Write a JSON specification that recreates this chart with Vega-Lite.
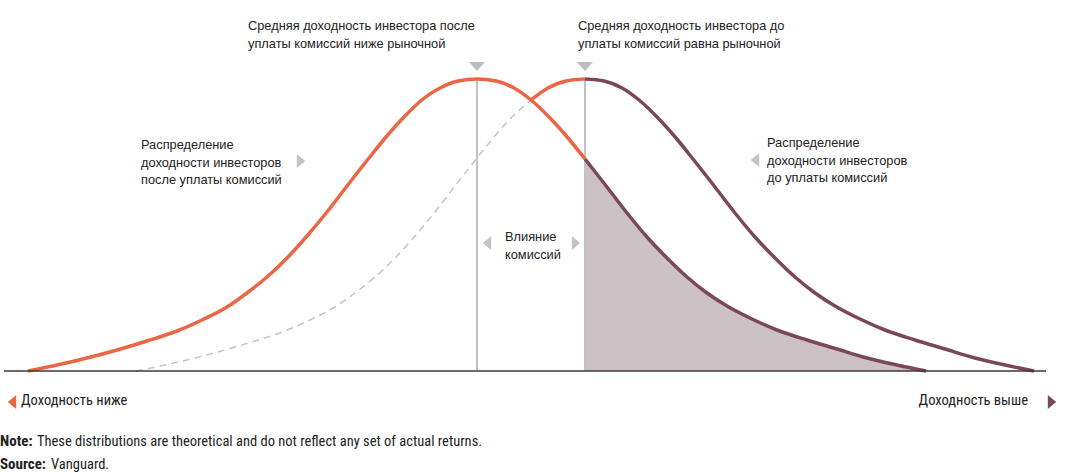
{
  "$schema": "https://vega.github.io/schema/vega-lite/v6.json",
  "width": 1065,
  "height": 476,
  "padding": 0,
  "autosize": {"type": "fit", "contains": "padding"},
  "background": "white",
  "config": {"view": {"stroke": null}},
  "datasets": {
    "after": [
      {"x": 28, "y": 0}, {"x": 57, "y": 6}, {"x": 87, "y": 13}, {"x": 117, "y": 21}, {"x": 147, "y": 30},
      {"x": 177, "y": 40}, {"x": 202, "y": 51}, {"x": 227, "y": 64}, {"x": 247, "y": 78}, {"x": 267, "y": 94},
      {"x": 287, "y": 113}, {"x": 307, "y": 135}, {"x": 327, "y": 159}, {"x": 347, "y": 185}, {"x": 369, "y": 213},
      {"x": 386, "y": 234}, {"x": 404, "y": 254}, {"x": 423, "y": 272}, {"x": 440, "y": 283}, {"x": 458, "y": 290},
      {"x": 477, "y": 292}, {"x": 496, "y": 290}, {"x": 514, "y": 283}, {"x": 531, "y": 271}, {"x": 550, "y": 253},
      {"x": 568, "y": 233}, {"x": 585, "y": 212}, {"x": 607, "y": 184}, {"x": 627, "y": 158}, {"x": 647, "y": 134},
      {"x": 667, "y": 113}, {"x": 687, "y": 94}, {"x": 707, "y": 78}, {"x": 727, "y": 65}, {"x": 752, "y": 52},
      {"x": 777, "y": 41}, {"x": 807, "y": 31}, {"x": 837, "y": 22}, {"x": 867, "y": 13}, {"x": 897, "y": 6},
      {"x": 926, "y": 0}
    ],
    "before": [
      {"x": 136, "y": 0}, {"x": 165, "y": 6}, {"x": 195, "y": 13}, {"x": 225, "y": 21}, {"x": 255, "y": 30},
      {"x": 285, "y": 40}, {"x": 310, "y": 51}, {"x": 335, "y": 64}, {"x": 355, "y": 78}, {"x": 375, "y": 94},
      {"x": 395, "y": 113}, {"x": 415, "y": 135}, {"x": 435, "y": 159}, {"x": 455, "y": 185}, {"x": 477, "y": 213},
      {"x": 494, "y": 234}, {"x": 512, "y": 254}, {"x": 531, "y": 271}, {"x": 548, "y": 283}, {"x": 566, "y": 290},
      {"x": 585, "y": 292}, {"x": 604, "y": 290}, {"x": 622, "y": 283}, {"x": 639, "y": 271}, {"x": 658, "y": 253},
      {"x": 676, "y": 233}, {"x": 693, "y": 212}, {"x": 715, "y": 184}, {"x": 735, "y": 158}, {"x": 755, "y": 134},
      {"x": 775, "y": 113}, {"x": 795, "y": 94}, {"x": 815, "y": 78}, {"x": 835, "y": 65}, {"x": 860, "y": 52},
      {"x": 885, "y": 41}, {"x": 915, "y": 31}, {"x": 945, "y": 22}, {"x": 975, "y": 13}, {"x": 1005, "y": 6},
      {"x": 1034, "y": 0}
    ],
    "vlines": [
      {"x": 477, "y": 292, "y2": 0},
      {"x": 585, "y": 292, "y2": 0}
    ],
    "base": [{"x": 4, "x2": 1046, "y": 0}],
    "tri_down": [{"x": 477, "y": 304.5}, {"x": 585, "y": 304.5}],
    "tri_right_gray": [{"x": 301, "y": 210}, {"x": 576, "y": 128}],
    "tri_left_gray": [{"x": 755, "y": 211}, {"x": 487, "y": 128}],
    "tri_left_orange": [{"x": 12, "y": -31}],
    "tri_right_purple": [{"x": 1052, "y": -31}],
    "labels": [
      {"x": 248, "y": 341, "text": "Средняя доходность инвестора после\nуплаты комиссий ниже рыночной"},
      {"x": 578, "y": 341, "text": "Средняя доходность инвестора до\nуплаты комиссий равна рыночной"},
      {"x": 141, "y": 222, "text": "Распределение\nдоходности инвесторов\nпосле уплаты комиссий"},
      {"x": 767, "y": 224, "text": "Распределение\nдоходности инвесторов\nдо уплаты комиссий"},
      {"x": 505, "y": 130, "text": "Влияние\nкомиссий"}
    ],
    "bottom_left": [
      {"x": 21, "y": -34, "text": "Доходность ниже"},
      {"x": 37, "y": -75, "text": "These distributions are theoretical and do not reflect any set of actual returns."},
      {"x": 51, "y": -98, "text": "Vanguard."}
    ],
    "bottom_right": [{"x": 1028, "y": -34, "text": "Доходность выше"}],
    "bold": [
      {"x": 0, "y": -75, "text": "Note:"},
      {"x": 0, "y": -98, "text": "Source:"}
    ]
  },
  "encoding": {
    "x": {"field": "x", "type": "quantitative", "scale": {"domain": [0, 1065], "nice": false, "zero": false}, "axis": null},
    "y": {"field": "y", "type": "quantitative", "scale": {"domain": [-105, 371], "nice": false, "zero": false}, "axis": null}
  },
  "layer": [
    {
      "data": {"name": "after"},
      "transform": [{"filter": "datum.x >= 585"}],
      "mark": {"type": "area", "interpolate": "monotone", "color": "#ccc1c4"},
      "encoding": {"y2": {"datum": 0}}
    },
    {
      "data": {"name": "vlines"},
      "mark": {"type": "rule", "color": "#c2c2c2", "strokeWidth": 2},
      "encoding": {"y2": {"field": "y2"}}
    },
    {
      "data": {"name": "before"},
      "transform": [{"filter": "datum.x <= 531"}],
      "mark": {"type": "line", "interpolate": "monotone", "color": "#c4c4c4", "strokeWidth": 1.5, "strokeDash": [7, 5]},
      "encoding": {}
    },
    {
      "data": {"name": "before"},
      "transform": [{"filter": "datum.x >= 531 && datum.x <= 585"}],
      "mark": {"type": "line", "interpolate": "monotone", "color": "#ea6645", "strokeWidth": 3.5},
      "encoding": {}
    },
    {
      "data": {"name": "before"},
      "transform": [{"filter": "datum.x >= 585"}],
      "mark": {"type": "line", "interpolate": "monotone", "color": "#7b4858", "strokeWidth": 3.5},
      "encoding": {}
    },
    {
      "data": {"name": "after"},
      "transform": [{"filter": "datum.x >= 585"}],
      "mark": {"type": "line", "interpolate": "monotone", "color": "#7b4858", "strokeWidth": 3.5},
      "encoding": {}
    },
    {
      "data": {"name": "after"},
      "transform": [{"filter": "datum.x <= 585"}],
      "mark": {"type": "line", "interpolate": "monotone", "color": "#ea6645", "strokeWidth": 3.5},
      "encoding": {}
    },
    {
      "data": {"name": "base"},
      "mark": {"type": "rule", "color": "#3a3a3a", "strokeWidth": 1.5},
      "encoding": {"x2": {"field": "x2"}}
    },
    {
      "data": {"name": "tri_down"},
      "mark": {"type": "point", "shape": "M-1,-0.55L1,-0.55L0,0.55Z", "size": 256, "filled": true, "color": "#bdbdbd", "opacity": 1}
    },
    {
      "data": {"name": "tri_right_gray"},
      "mark": {"type": "point", "shape": "M-0.6,-1L0.6,0L-0.6,1Z", "size": 196, "filled": true, "color": "#c4c4c4", "opacity": 1}
    },
    {
      "data": {"name": "tri_left_gray"},
      "mark": {"type": "point", "shape": "M0.6,-1L-0.6,0L0.6,1Z", "size": 196, "filled": true, "color": "#c4c4c4", "opacity": 1}
    },
    {
      "data": {"name": "tri_left_orange"},
      "mark": {"type": "point", "shape": "M0.6,-1L-0.6,0L0.6,1Z", "size": 196, "filled": true, "color": "#ea6645", "opacity": 1}
    },
    {
      "data": {"name": "tri_right_purple"},
      "mark": {"type": "point", "shape": "M-0.6,-1L0.6,0L-0.6,1Z", "size": 196, "filled": true, "color": "#7b4858", "opacity": 1}
    },
    {
      "data": {"name": "labels"},
      "mark": {"type": "text", "align": "left", "baseline": "alphabetic", "font": "Liberation Sans", "fontSize": 12.8, "lineHeight": 17.5, "lineBreak": "\n", "color": "#222222"},
      "encoding": {"text": {"field": "text"}}
    },
    {
      "data": {"name": "bottom_left"},
      "mark": {"type": "text", "align": "left", "baseline": "alphabetic", "font": "Liberation Sans Narrow, Roboto Condensed, DejaVu Sans Condensed, sans-serif", "fontSize": 14.5, "color": "#222222"},
      "encoding": {"text": {"field": "text"}}
    },
    {
      "data": {"name": "bottom_right"},
      "mark": {"type": "text", "align": "right", "baseline": "alphabetic", "font": "Liberation Sans Narrow, Roboto Condensed, DejaVu Sans Condensed, sans-serif", "fontSize": 14.5, "color": "#222222"},
      "encoding": {"text": {"field": "text"}}
    },
    {
      "data": {"name": "bold"},
      "mark": {"type": "text", "align": "left", "baseline": "alphabetic", "font": "Liberation Sans Narrow, Roboto Condensed, DejaVu Sans Condensed, sans-serif", "fontSize": 15, "fontWeight": "bold", "color": "#222222"},
      "encoding": {"text": {"field": "text"}}
    }
  ]
}
